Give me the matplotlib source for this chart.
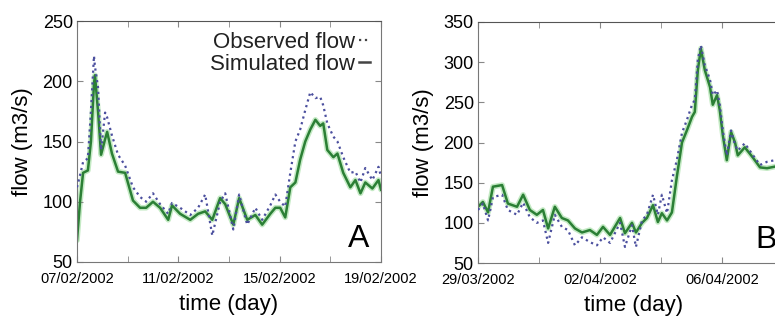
import datetime as dt
import matplotlib
matplotlib.use('Agg')
import matplotlib.pyplot as plt
import matplotlib.dates as mdates

plt.rcParams['font.family'] = ['Liberation Sans', 'DejaVu Sans']

# ---- panel A: 07/02/2002 .. 19/02/2002 (days since start)
a_start = dt.datetime(2002, 2, 7)
a_days = [0.0, 0.12, 0.24, 0.43, 0.55, 0.67, 0.71, 0.83, 0.95, 1.11, 1.19, 1.38,
          1.62, 1.90, 2.21, 2.49, 2.73, 3.00, 3.28, 3.60, 3.75, 4.07, 4.47, 4.78,
          5.06, 5.34, 5.65, 5.85, 6.17, 6.40, 6.72, 7.04, 7.31, 7.63, 7.83, 8.02,
          8.22, 8.42, 8.62, 8.81, 9.01, 9.21, 9.41, 9.60, 9.72, 9.88, 10.12, 10.28,
          10.51, 10.79, 10.99, 11.19, 11.38, 11.66, 11.90, 12.0]
a_sim = [68, 100, 124, 126, 150, 198, 205, 175, 139, 152, 158, 140,
         125, 124, 101, 95, 95, 100, 95, 85, 97, 90, 85, 90,
         92, 85, 103, 98, 81, 103, 85, 89, 81, 90, 95, 95,
         87, 112, 116, 135, 150, 160, 168, 163, 165, 143, 137, 140,
         124, 112, 118, 107, 116, 111, 118, 110]
a_obs = [112, 122, 133, 136, 175, 221, 212, 195, 143, 174, 170, 155,
         139, 130, 112, 104, 100, 107, 98, 90, 99, 95, 89, 95,
         106, 72, 100, 107, 77, 106, 81, 95, 85, 97, 106, 100,
         96, 124, 150, 160, 176, 191, 186, 187, 180, 165, 154, 150,
         137, 124, 125, 116, 128, 118, 129, 121]

# ---- panel B: from 29/03/2002
b_start = dt.datetime(2002, 3, 29)
b_days = [0.0, 0.16, 0.33, 0.49, 0.79, 0.98, 1.28, 1.48, 1.70, 1.93, 2.13, 2.30,
          2.52, 2.75, 2.95, 3.18, 3.41, 3.67, 3.90, 4.10, 4.33, 4.66, 4.82, 5.05,
          5.18, 5.38, 5.54, 5.74, 5.90, 6.03, 6.20, 6.36, 6.52, 6.69, 6.85, 7.02,
          7.11, 7.21, 7.31, 7.44, 7.61, 7.70, 7.84, 7.93, 8.03, 8.16, 8.30, 8.43,
          8.52, 8.75, 9.02, 9.25, 9.48, 9.74, 10.07]
b_sim = [120, 126, 113, 145, 147, 124, 120, 135, 116, 110, 116, 93,
         120, 106, 103, 93, 88, 91, 85, 95, 85, 106, 87, 100,
         88, 100, 106, 122, 101, 112, 103, 113, 157, 200, 215, 232,
         238, 290, 317, 290, 269, 247, 259, 240, 209, 178, 213, 200,
         184, 194, 181, 169, 168, 170, 172]
b_obs = [116, 124, 103, 132, 135, 116, 110, 125, 107, 100, 103, 75,
         110, 95, 91, 72, 82, 76, 72, 82, 75, 100, 70, 97,
         70, 103, 110, 135, 110, 135, 112, 153, 178, 212, 228, 247,
         253, 303, 321, 296, 278, 259, 265, 247, 215, 184, 215, 197,
         190, 199, 184, 172, 176, 178, 180]

sim_col = '#2b7f35'
obs_col = '#4b4f9e'

fig = plt.figure(figsize=(7.75, 3.2), dpi=100)
ax1 = fig.add_axes([77/775, 58/320, 304/775, 241/320])
ax2 = fig.add_axes([478/775, 57/320, 311/775, 241/320])


def draw(ax, start, days, sim, obs, ylim, xdays, letter):
    t = [start + dt.timedelta(days=d) for d in days]
    ax.plot(t, sim, color='#c4eac4', lw=4, solid_capstyle='round', zorder=1)
    ls, = ax.plot(t, sim, color=sim_col, lw=1.8, label='Simulated flow', zorder=2)
    lo, = ax.plot(t, obs, color=obs_col, lw=1.6, ls=':', label='Observed flow', zorder=3)
    ax.set_xlim(start, start + dt.timedelta(days=xdays))
    ax.set_ylim(*ylim)
    ax.set_yticks(range(ylim[0], ylim[1] + 1, 50))
    ax.set_xticks([start + dt.timedelta(days=d) for d in range(0, int(xdays) + 1, 4)])
    ax.set_xticks([start + dt.timedelta(days=d) for d in range(0, int(xdays) + 1, 2)],
                  minor=True)
    ax.xaxis.set_major_formatter(mdates.DateFormatter('%d/%m/%Y'))
    ax.tick_params(which='both', direction='in', top=True, right=True,
                   color='#888888', length=4)
    ax.tick_params(axis='x', labelsize=10.5, pad=7)
    ax.tick_params(axis='y', labelsize=13, pad=3)
    for s in ax.spines.values():
        s.set_color('#777777')
    ax.spines['top'].set_color('#555555')
    ax.set_xlabel('time (day)', fontsize=16, labelpad=6)
    ax.set_ylabel('flow (m3/s)', fontsize=16, labelpad=7)
    ax.text(0.925, 0.035, letter, transform=ax.transAxes, ha='center',
            va='bottom', fontsize=23)
    return lo, ls


lo, ls = draw(ax1, a_start, a_days, a_sim, a_obs, (50, 250), 12, 'A')
draw(ax2, b_start, b_days, b_sim, b_obs, (50, 350), 10.2, 'B')

leg = ax1.legend([lo, ls], ['Observed flow', 'Simulated flow'], loc='upper right',
                 frameon=False, markerfirst=False, handlelength=0.5,
                 handletextpad=0.15, fontsize=16, labelspacing=0.05,
                 borderaxespad=0.1)
for h in leg.legend_handles:
    h.set_color('#444444')
for txt in leg.get_texts():
    txt.set_color('#222222')

fig.savefig('out.png', dpi=100)
